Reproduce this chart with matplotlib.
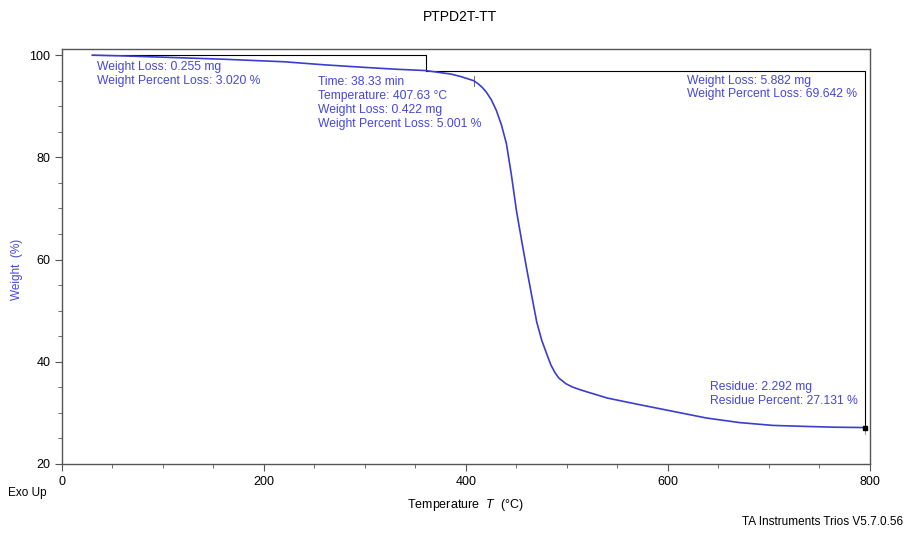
import matplotlib.pyplot as plt
from matplotlib.ticker import MultipleLocator

plt.rcParams['font.family'] = ['Liberation Sans', 'DejaVu Sans']
plt.rcParams['mathtext.fontset'] = 'custom'
plt.rcParams['mathtext.rm'] = 'Liberation Sans'
plt.rcParams['mathtext.it'] = 'Liberation Sans:italic'

# TGA curve
temp = [30, 60, 100, 160, 220, 260, 300, 330, 360, 385, 395, 407.6, 412, 416, 420,
        425, 430, 435, 440, 445, 450, 455, 460, 465, 470, 475, 480, 484, 488,
        492, 499, 505, 512, 520, 540, 572, 605, 638, 671, 704, 737, 765, 795]
weight = [100.0, 99.85, 99.6, 99.2, 98.7, 98.1, 97.6, 97.25, 96.98, 96.3, 95.8,
          95.0, 94.4, 93.7, 92.8, 91.3, 89.2, 86.4, 82.7, 76.5, 69.5, 63.8, 58.3,
          53.0, 47.8, 44.2, 41.5, 39.4, 37.9, 36.8, 35.7, 35.1, 34.6, 34.1, 32.9,
          31.6, 30.3, 29.0, 28.1, 27.55, 27.35, 27.2, 27.13]

step1_x = [30, 360, 360]
step1_y = [100.0, 100.0, 96.98]
step2_x = [360, 795, 795]
step2_y = [96.98, 96.98, 27.13]

ann_step1 = ["Weight Loss: 0.255 mg", "Weight Percent Loss: 3.020 %"]
ann_point = ["Time: 38.33 min", "Temperature: 407.63 °C",
             "Weight Loss: 0.422 mg", "Weight Percent Loss: 5.001 %"]
ann_step2 = ["Weight Loss: 5.882 mg", "Weight Percent Loss: 69.642 %"]
ann_res = ["Residue: 2.292 mg", "Residue Percent: 27.131 %"]

blue = '#3c3cd2'
txt_blue = '#4646dc'

fig = plt.figure(figsize=(9.2, 5.34), dpi=100)
ax = fig.add_axes([62/920, 1-464/534, 808/920, 415/534])

ax.plot(step1_x, step1_y, color='black', lw=0.8)
ax.plot(step2_x, step2_y, color='black', lw=0.8)
ax.plot([795, 795], [27.13, 25.8], color='#888888', lw=0.6)
ax.plot([407.6, 407.6], [96.0, 94.0], color='#555555', lw=0.6)
ax.plot(temp, weight, color=blue, lw=1.2)
ax.plot([795], [27.13], marker='s', ms=2.5, color='black')

ax.set_xlim(0, 800)
ax.set_ylim(20, 101.2)
ax.xaxis.set_major_locator(MultipleLocator(200))
ax.xaxis.set_minor_locator(MultipleLocator(50))
ax.yaxis.set_major_locator(MultipleLocator(20))
ax.yaxis.set_minor_locator(MultipleLocator(5))
ax.tick_params(which='major', direction='out', length=5, width=0.8,
               color='#555555', labelsize=9)
ax.tick_params(which='minor', direction='out', length=3, width=0.6, color='#555555')
for s in ax.spines.values():
    s.set_color('#555555')
    s.set_linewidth(1.0)

ax.set_ylabel("Weight  (%)", color=txt_blue, fontsize=8.5)
ax.yaxis.set_label_coords(-0.048, 0.47)
ax.set_xlabel("Temperature  $T$  (°C)", fontsize=9)
ax.xaxis.set_label_coords(0.499, -0.08)

def put_lines(x, y0, lines, dy=2.7):
    for i, s in enumerate(lines):
        ax.text(x, y0 - i*dy, s, color=txt_blue, fontsize=8.7, va='center', ha='left')

put_lines(34.5, 97.7, ann_step1)
put_lines(253, 94.7, ann_point)
put_lines(619, 95.0, ann_step2)
put_lines(642, 35.0, ann_res)

fig.text(0.5, 1-17/534, "PTPD2T-TT", ha='center', va='center', fontsize=10)
fig.text(8/920, 1-493/534, "Exo Up", ha='left', va='center', fontsize=8.5)
fig.text(903/920, 1-522/534, "TA Instruments Trios V5.7.0.56", ha='right', va='center', fontsize=8.5)

fig.savefig("out.png", dpi=100)
